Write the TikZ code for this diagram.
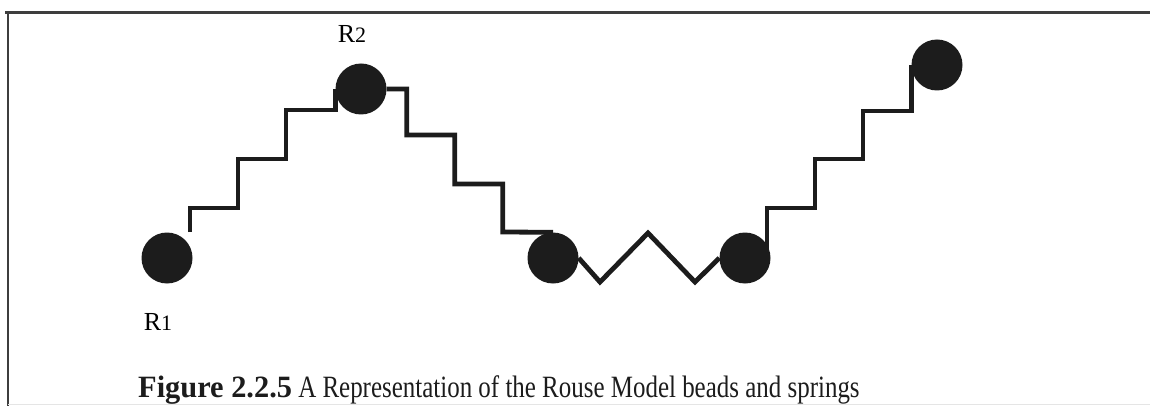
\documentclass[tikz,border=0pt]{standalone}
\usepackage{fontspec}
\setmainfont{Liberation Serif}
\usetikzlibrary{calc}
\definecolor{ink}{HTML}{1C1C1C}
\tikzset{
  bead/.style={circle, fill=ink, draw=none, minimum size=51pt, inner sep=0pt},
  spring/.style={draw=ink, line width=4.8pt, line join=miter, line cap=butt},
  frameline/.style={draw=ink!85, line width=3pt},
  lbl/.style={inner sep=0pt, font=\fontsize{26}{26}\selectfont},
}
\begin{document}
\begin{tikzpicture}[x=1pt, y=-1pt]
  \useasboundingbox (0,0) rectangle (1150,406);
  % figure frame
  \draw[frameline] (5,13) -- (1150,13);
  \draw[frameline, line width=2.5pt] (8,13) -- (8,406);
  \draw[black!10, line width=1pt] (8,404) -- (1150,404);

  % beads
  \node[bead] (b1) at (167,258) {};
  \node[bead] (b2) at (361,89) {};
  \node[bead] (b3) at (553,258) {};
  \node[bead] (b4) at (745,258) {};
  \node[bead] (b5) at (937,65) {};

  % labels
  \node[lbl] (l1) at (158,322) {R{\fontsize{22}{22}\selectfont 1}};
  \node[lbl] (l2) at (352,34) {R{\fontsize{22}{22}\selectfont 2}};

  % stepped springs
  \draw[spring] ($(b1)+(23,-26)$) -- ++(0,-24) -- ++(48,0) -- ++(0,-49)
    -- ++(48,0) -- ++(0,-49) -| (b2.west);
  \draw[spring] (b2.east) -- ++(20,0) -- ++(0,46) -- ++(48,0) -- ++(0,49)
    -- ++(48,0) -- ++(0,48) -- (b3.north);
  \coordinate (z1) at (600,282);
  \coordinate (z2) at (648,233);
  \coordinate (z3) at (695,282);
  \draw[spring] (b3.east) -- (z1) -- (z2) -- (z3) -- (b4.west);
  \draw[spring] ($(b4)+(22,-2)$) -- ++(0,-48) -- ++(48,0) -- ++(0,-49)
    -- ++(48,0) -- ++(0,-48) -| (b5.west);

  % caption
  \node[anchor=base west, inner sep=0pt, font=\fontsize{31}{31}\selectfont, text=ink] (cap) at (138,397)
    {\scalebox{0.98}[1]{\textbf{Figure 2.2.5}}\scalebox{0.805}[1]{ A Representation of the Rouse Model beads and springs}};
\end{tikzpicture}
\end{document}
